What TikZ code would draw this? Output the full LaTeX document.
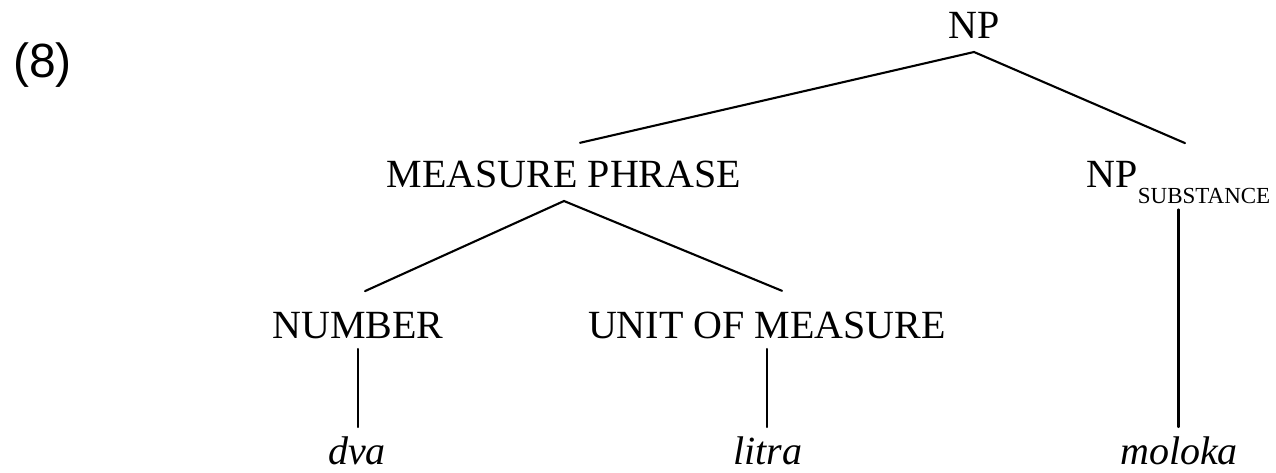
\documentclass[tikz,border=0pt]{standalone}
\usepackage{fontspec}
\setmainfont{Liberation Serif}
\newfontfamily\exfont{Liberation Sans}
\begin{document}
\begin{tikzpicture}[x=1pt,y=-1pt,
  cat/.style={inner sep=0pt, anchor=base, font=\fontsize{40}{40}\selectfont},
  leaf/.style={cat, font=\fontsize{40}{40}\selectfont\itshape},
  branch/.style={line width=2.1pt, line cap=round}]
\useasboundingbox (0,0) rectangle (1276,472);

% example number
\node[inner sep=0pt, anchor=base west, font=\exfont\fontsize{48}{48}\selectfont] (ex) at (13,77) {(8)};

% categories
\node[cat] (np)   at (974,38)  {NP};
\node[cat] (mp)   at (564,187) {MEASURE PHRASE};
\node[cat] (nps)  at (1178.5,187) {NP\raisebox{-16pt}{\fontsize{23}{23}\selectfont SUBSTANCE}};
\node[cat] (num)  at (358,338) {NUMBER};
\node[cat] (unit) at (767,338) {UNIT OF MEASURE};

% words
\node[leaf] (dva)    at (357,464)  {dva};
\node[leaf] (litra)  at (768,464)  {litra};
\node[leaf] (moloka) at (1179,464) {moloka};

% branches
\draw[branch] ([xshift=16pt,yshift=17.5pt]mp.north) -- ([yshift=-14pt]np.base)
              -- ([xshift=6.5pt,yshift=17.5pt]nps.north);
\draw[branch] ([xshift=7pt,yshift=20.5pt]num.north) -- ([yshift=-14pt]mp.base)
              -- ([xshift=15pt,yshift=20.5pt]unit.north);
\draw[branch] ([yshift=-11pt]num.base) -- ([yshift=37pt]dva.base -| num.base);
\draw[branch] ([yshift=-11pt]unit.base) -- ([yshift=37pt]litra.base -| unit.base);
\draw[branch] ([yshift=-6pt]nps.south) -- ([yshift=37pt]moloka.base -| nps.south);
\end{tikzpicture}
\end{document}
